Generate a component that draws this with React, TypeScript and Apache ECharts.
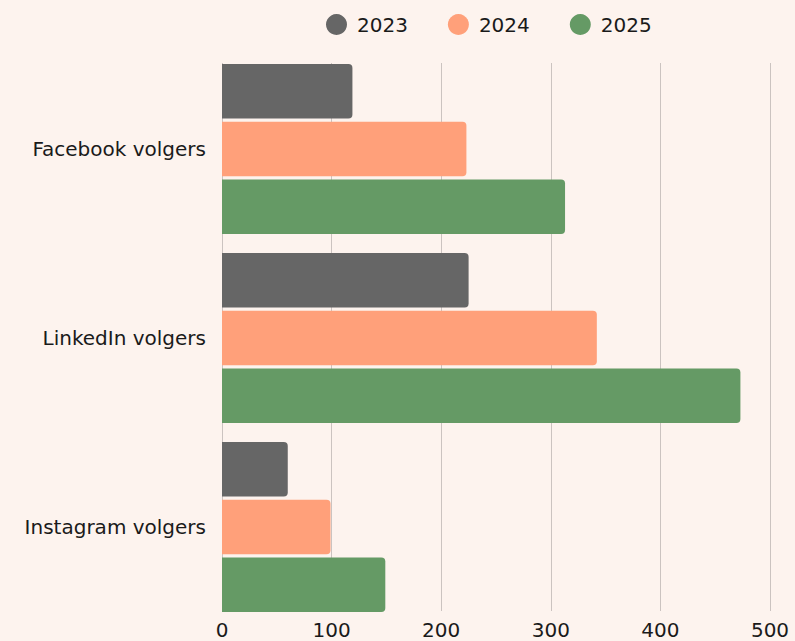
import React, { useEffect, useRef } from "react";
import * as echarts from "echarts";

const categories = ["Facebook volgers", "LinkedIn volgers", "Instagram volgers"];
const years = ["2023", "2024", "2025"];
const values2023 = [119, 225, 60];
const values2024 = [223, 342, 99];
const values2025 = [313, 473, 149];
const xTicks = [0, 100, 200, 300, 400, 500];

const colors = ["#666666", "#ffa07a", "#659a65"];
const FONT = "DejaVu Sans";

export default function App() {
  const ref = useRef<HTMLDivElement>(null);
  useEffect(() => {
    document.body.style.margin = "0";
    if (!ref.current) return;
    const chart = echarts.init(ref.current, null, { renderer: "svg" });
    const seriesData = [values2023, values2024, values2025];
    chart.setOption({
      animation: false,
      backgroundColor: "#fdf3ee",
      textStyle: { fontFamily: FONT },
      legend: {
        top: 14,
        left: 326,
        padding: 0,
        icon: "circle",
        itemWidth: 21,
        itemHeight: 21,
        itemGap: 40,
        data: years,
        textStyle: {
          fontSize: 20,
          lineHeight: 21,
          color: "#1a1a1a",
          fontFamily: FONT,
          padding: [0, 0, 0, 5],
        },
      },
      grid: [
        { left: 222, right: 25, top: 54.5, bottom: 19.5, containLabel: false },
        { left: 222, right: 25, top: 63, bottom: 30, containLabel: false },
      ],
      xAxis: [
        { type: "value", gridIndex: 0, min: 0, max: 500, interval: 100, show: false },
        {
          type: "value",
          gridIndex: 1,
          min: xTicks[0],
          max: xTicks[xTicks.length - 1],
          interval: 100,
          axisLine: { show: false },
          axisTick: { show: false },
          axisLabel: { fontSize: 20, color: "#1a1a1a", margin: 9, fontFamily: FONT },
          splitLine: { show: true, lineStyle: { color: "#cbc3c0", width: 1 } },
        },
      ],
      yAxis: [
        {
          type: "category",
          gridIndex: 0,
          inverse: true,
          data: categories,
          axisLine: { show: false },
          axisTick: { show: false },
          axisLabel: { fontSize: 20, color: "#1a1a1a", margin: 16, fontFamily: FONT },
        },
        { type: "value", gridIndex: 1, min: 0, max: 1, show: false },
      ],
      series: years.map((y, i) => ({
        name: y,
        type: "bar",
        xAxisIndex: 0,
        yAxisIndex: 0,
        data: seriesData[i],
        barCategoryGap: "10%",
        barGap: "6%",
        z: 3,
        itemStyle: { color: colors[i], borderRadius: [0, 4, 4, 0] },
      })),
    });
    return () => chart.dispose();
  }, []);
  return <div ref={ref} style={{ width: 795, height: 641 }} />;
}
